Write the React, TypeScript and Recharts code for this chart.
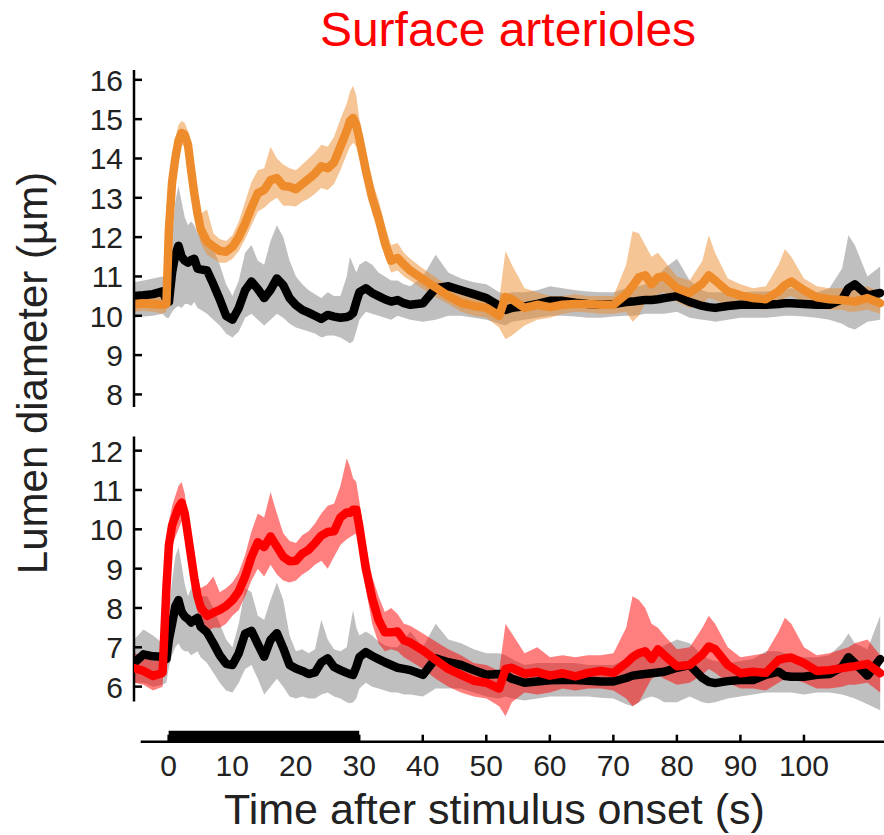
import React from "react";
import { ComposedChart, Line, Area, XAxis, YAxis, ReferenceLine } from "recharts";

// time after stimulus onset (s)
const time = [
  -5.5, -4, -2.5, -1, -0.4, 0, 0.5, 1, 1.5, 2, 2.5, 3, 3.5, 4, 4.5, 5,
  6, 7, 8, 9, 10, 11, 12, 13, 14, 15, 16, 17, 18, 19, 20, 21, 22, 23, 24, 25, 26, 27, 28,
  28.5, 29, 29.5, 30, 31, 32, 33, 34, 35, 36, 37, 38,
  40, 42, 44, 46, 48, 50, 52, 53, 54,
  56, 58, 60, 62, 64, 66, 68, 70, 72, 73, 74, 75, 76, 77, 78,
  80, 82, 84, 85, 86, 88, 90, 92, 94, 96, 97, 98, 100, 102, 104, 106, 107, 108, 110, 112,
];

// top panel: orange trace with its band, black control with grey band
const orangeMean = [
  10.3, 10.32, 10.3, 10.28, 10.3, 12.2, 13.4, 14.0, 14.45, 14.65, 14.6, 14.35, 13.7, 13.1, 12.6, 12.2,
  11.89, 11.76, 11.65, 11.63, 11.75, 12.0, 12.35, 12.75, 13.12, 13.2, 13.45, 13.5, 13.3, 13.28, 13.22, 13.35, 13.48, 13.62, 13.8, 13.75, 13.9, 14.3, 14.7,
  14.95, 15.03, 14.85, 14.5, 13.7, 13.0, 12.5, 11.85, 11.4, 11.47, 11.3, 11.15,
  10.93, 10.72, 10.5, 10.33, 10.25, 10.2, 10.0, 10.48, 10.42,
  10.2, 10.28, 10.22, 10.28, 10.3, 10.3, 10.28, 10.28, 10.55, 10.75, 10.98, 11.03, 10.8, 10.98, 11.0,
  10.7, 10.58, 10.82, 11.03, 10.9, 10.62, 10.52, 10.45, 10.42, 10.62, 10.78, 10.87, 10.65, 10.47, 10.42, 10.4, 10.38, 10.36, 10.45, 10.32,
];
const orangeLo = [
  10.1, 10.12, 10.1, 10.05, 10.1, 11.7, 12.9, 13.6, 14.1, 14.35, 14.3, 14.0, 13.3, 12.7, 12.2, 11.85,
  11.55, 11.45, 11.35, 11.35, 11.45, 11.65, 11.95, 12.3, 12.65, 12.75, 12.9, 13.0, 12.8, 12.8, 12.78, 12.9, 12.98, 13.1, 13.25, 13.2, 13.35, 13.7, 14.1,
  14.3, 14.4, 14.3, 14.0, 13.3, 12.6, 12.1, 11.5, 11.1, 11.15, 11.0, 10.9,
  10.68, 10.48, 10.3, 10.1, 10.0, 9.95, 9.7, 9.4, 9.5,
  9.75, 9.9, 9.95, 10.05, 10.1, 10.08, 10.05, 10.05, 10.1, 9.85, 10.0, 10.35, 10.4, 10.55, 10.6,
  10.35, 10.2, 10.3, 10.45, 10.4, 10.25, 10.25, 10.2, 10.15, 10.3, 10.45, 10.5, 10.35, 10.2, 10.15, 10.15, 10.1, 10.1, 10.15, 10.05,
];
const orangeHi = [
  10.5, 10.52, 10.5, 10.5, 10.55, 12.8, 13.9, 14.5, 14.85, 14.95, 14.9, 14.7, 14.1, 13.5, 13.0, 12.6,
  12.7, 12.1, 11.95, 11.9, 12.05, 12.4, 12.9, 13.4, 13.7, 13.75, 14.3, 14.0, 13.85, 13.75, 13.7, 13.85, 14.0, 14.15, 14.35, 14.3, 14.55, 15.0, 15.4,
  15.7, 15.85, 15.6, 15.0, 14.2, 13.4, 12.95, 12.3, 11.8, 11.85, 11.6, 11.45,
  11.2, 10.98, 10.75, 10.55, 10.5, 10.45, 10.4, 11.65, 11.3,
  10.7, 10.6, 10.5, 10.5, 10.55, 10.5, 10.5, 10.5, 11.3, 12.15, 12.1, 11.8, 11.5, 11.6, 11.4,
  11.0, 10.9, 11.4, 12.05, 11.6, 10.95, 10.8, 10.7, 10.75, 11.3, 11.7, 11.5, 10.95, 10.75, 10.7, 10.7, 10.7, 10.65, 10.75, 10.6,
];
const blackTopMean = [
  10.5, 10.52, 10.55, 10.62, 10.4, 10.35, 11.1, 11.55, 11.78, 11.5, 11.4, 11.35, 11.42, 11.45, 11.2, 11.18,
  11.15, 10.8, 10.42, 10.0, 9.9, 10.2, 10.65, 10.87, 10.68, 10.45, 10.66, 10.95, 10.78, 10.45, 10.27, 10.15, 10.08, 10.0, 9.92, 10.02, 9.98, 9.95, 9.97,
  10.0, 10.07, 10.35, 10.6, 10.7, 10.58, 10.5, 10.42, 10.36, 10.4, 10.32, 10.28,
  10.32, 10.7, 10.75, 10.65, 10.55, 10.45, 10.25, 10.15, 10.2,
  10.24, 10.3, 10.38, 10.38, 10.33, 10.3, 10.28, 10.3, 10.35, 10.36, 10.38, 10.4, 10.4, 10.42, 10.45,
  10.5, 10.35, 10.25, 10.22, 10.2, 10.25, 10.28, 10.28, 10.28, 10.3, 10.32, 10.32, 10.3, 10.28, 10.28, 10.42, 10.7, 10.8, 10.52, 10.58,
];
const grayTopLo = [
  9.95, 9.98, 10.0, 10.05, 9.95, 9.95, 10.1, 10.2, 10.25, 10.2, 10.3, 10.3, 10.25, 10.35, 10.2, 10.15,
  10.05, 9.9, 9.75, 9.55, 9.45, 9.6, 9.95, 10.05, 9.9, 9.75, 9.9, 10.05, 9.95, 9.8, 9.7, 9.65, 9.6, 9.55, 9.45, 9.5, 9.5, 9.45, 9.35,
  9.3, 9.35, 9.6, 9.9, 10.1, 10.05, 10.0, 9.95, 9.9, 10.0, 9.95, 9.9,
  9.85, 9.9, 10.0, 10.0, 9.95, 9.9, 9.8, 9.75, 9.85,
  9.9, 9.95, 10.0, 10.0, 9.98, 9.95, 9.95, 9.98, 10.0, 10.0, 10.02, 10.05, 10.05, 10.05, 10.05,
  10.1, 9.95, 9.9, 9.88, 9.85, 9.9, 9.95, 9.95, 9.95, 9.98, 10.0, 10.0, 9.98, 9.95, 9.9, 9.8, 9.7, 9.65, 9.85, 9.9,
];
const grayTopHi = [
  10.85, 10.9, 10.95, 11.0, 10.9, 11.0, 12.0, 12.9, 13.3, 12.9, 12.5, 12.3, 12.4, 12.3, 12.1, 12.2,
  12.1, 11.7, 11.3, 10.8, 10.5, 10.9, 11.6, 11.8, 11.4, 11.3, 11.9, 12.3, 12.0, 11.4, 11.0, 10.8, 10.65, 10.55, 10.45, 10.6, 10.5, 10.5, 11.0,
  11.5, 11.3, 11.1, 11.3, 11.4, 11.3, 11.1, 11.0, 10.9, 10.9, 10.8, 10.75,
  11.0, 11.55, 11.1, 10.95, 10.85, 10.8, 10.6, 10.55, 10.6,
  10.6, 10.65, 10.75, 10.7, 10.65, 10.62, 10.6, 10.6, 10.7, 10.75, 10.75, 10.8, 10.8, 11.0, 11.2,
  11.45, 10.9, 10.65, 10.6, 10.6, 10.6, 10.6, 10.62, 10.62, 10.65, 10.68, 10.7, 10.65, 10.6, 10.7, 11.2, 12.05, 11.8, 11.0, 11.25,
];

// bottom panel: red trace with its band, black control with grey band
const redMean = [
  6.47, 6.4, 6.27, 6.35, 8.5, 9.6, 10.1, 10.33, 10.55, 10.68, 10.4, 9.85, 9.3, 8.75, 8.3, 8.02,
  7.8, 7.88, 7.95, 8.05, 8.2, 8.42, 8.8, 9.3, 9.67, 9.55, 9.82, 9.56, 9.3, 9.19, 9.2, 9.38, 9.48, 9.65, 9.84, 9.93, 9.95, 10.3, 10.43,
  10.42, 10.5, 10.5, 10.05, 9.0, 8.25, 7.7, 7.38, 7.38, 7.4, 7.18, 7.12,
  6.92, 6.68, 6.45, 6.3, 6.15, 6.1, 5.95, 6.45, 6.48,
  6.33, 6.37, 6.28, 6.34, 6.26, 6.35, 6.4, 6.35, 6.6, 6.75, 6.85, 6.9, 6.7, 6.95, 6.8,
  6.52, 6.55, 6.82, 7.02, 6.95, 6.55, 6.34, 6.38, 6.35, 6.68, 6.72, 6.74, 6.6, 6.4, 6.42, 6.47, 6.5, 6.52, 6.58, 6.34,
];
const redLo = [
  6.1, 6.05, 5.9, 6.0, 7.9, 9.1, 9.6, 9.8, 10.0, 10.2, 9.9, 9.3, 8.8, 8.3, 7.9, 7.6,
  7.4, 7.5, 7.5, 7.6, 7.8, 7.95, 8.3, 8.7, 9.0, 8.8, 9.1, 8.85, 8.7, 8.65, 8.7, 8.85, 8.95, 9.1, 9.2, 9.0, 9.3, 9.6, 9.75,
  9.8, 9.85, 9.9, 9.5, 8.5, 7.6, 7.1, 6.9, 6.95, 6.9, 6.75, 6.65,
  6.45, 6.2, 6.0, 5.85, 5.75, 5.7, 5.5, 5.25, 5.6,
  5.85, 5.8, 5.85, 5.95, 5.9, 5.95, 5.95, 5.9, 5.7, 5.5, 5.6, 5.9, 6.2, 6.3, 6.2,
  6.05, 6.1, 6.3, 6.45, 6.35, 6.1, 5.95, 5.95, 5.9, 6.1, 6.2, 6.2, 6.1, 5.95, 5.95, 6.0, 6.05, 6.05, 6.1, 5.85,
];
const redHi = [
  6.85, 6.8, 6.65, 6.75, 9.0, 10.2, 10.6, 10.85, 11.1, 11.2, 10.9, 10.35, 9.8, 9.3, 8.8, 8.5,
  8.6, 8.8, 8.4, 8.5, 8.65, 8.9, 9.35, 9.95, 10.4, 10.3, 10.95, 10.4, 9.9, 9.7, 9.65, 9.85, 9.95, 10.15, 10.4, 10.6, 10.65, 11.1, 11.8,
  11.6, 11.3, 11.2, 10.7, 9.6, 8.8, 8.3, 7.9, 8.0, 7.85, 7.6, 7.55,
  7.35, 7.15, 6.95, 6.8, 6.6, 6.55, 6.4, 7.6, 7.35,
  6.85, 7.0, 6.75, 6.8, 6.75, 6.8, 6.8, 6.85, 7.5, 8.3, 8.2, 8.0, 7.6, 7.5, 7.3,
  6.95, 7.0, 7.5, 7.8, 7.6, 7.0, 6.75, 6.8, 6.85, 7.4, 7.75, 7.6, 7.0, 6.8, 6.85, 6.95, 7.0, 7.1, 7.2, 6.8,
];
const blackBotMean = [
  6.6, 6.82, 6.77, 6.76, 6.7, 7.2, 7.6, 8.04, 8.2, 7.9, 7.78, 7.72, 7.63, 7.7, 7.75, 7.52,
  7.38, 7.1, 6.8, 6.58, 6.55, 6.85, 7.35, 7.42, 7.08, 6.76, 7.19, 7.36, 6.98, 6.55, 6.46, 6.4, 6.32, 6.36, 6.62, 6.72, 6.5, 6.42, 6.35,
  6.32, 6.3, 6.5, 6.75, 6.88, 6.78, 6.7, 6.62, 6.55, 6.48, 6.45, 6.42,
  6.3, 6.72, 6.62, 6.55, 6.42, 6.3, 6.32, 6.3, 6.2,
  6.1, 6.13, 6.16, 6.17, 6.17, 6.15, 6.13, 6.13, 6.22, 6.28, 6.3, 6.32, 6.34, 6.36, 6.38,
  6.48, 6.55, 6.22, 6.12, 6.09, 6.14, 6.17, 6.17, 6.3, 6.38, 6.27, 6.25, 6.25, 6.3, 6.32, 6.5, 6.75, 6.6, 6.28, 6.7,
];
const grayBotLo = [
  6.1, 6.1, 6.0, 6.05, 6.1, 6.5, 6.8, 7.0, 7.1, 6.95, 6.9, 6.9, 6.8, 6.85, 6.9, 6.75,
  6.6, 6.35, 6.1, 5.9, 5.85, 6.1, 6.45, 6.55, 6.2, 5.8, 6.0, 6.2, 6.0, 5.75, 5.7, 5.75, 5.7, 5.7, 5.8, 5.85, 5.75, 5.7, 5.6,
  5.58, 5.6, 5.7, 5.95, 6.1, 6.0, 5.95, 5.9, 5.85, 5.85, 5.8, 5.8,
  5.75, 5.95, 5.95, 5.95, 5.85, 5.75, 5.7, 5.75, 5.7,
  5.65, 5.7, 5.75, 5.75, 5.75, 5.75, 5.72, 5.7, 5.55, 5.5, 5.6, 5.7, 5.75, 5.7, 5.6,
  5.6, 5.75, 5.6, 5.58, 5.6, 5.7, 5.75, 5.8, 5.85, 5.85, 5.85, 5.85, 5.8, 5.85, 5.85, 5.8, 5.75, 5.7, 5.55, 5.4,
];
const grayBotHi = [
  7.2, 7.45, 7.3, 7.1, 7.3, 8.0, 8.7, 9.3, 9.55, 9.1, 8.6, 8.3, 8.5, 8.7, 8.8, 8.3,
  8.3, 8.0, 7.6, 7.2, 7.0, 7.6, 8.5, 8.4, 7.8, 7.7, 8.2, 8.65, 8.2, 7.3, 6.9, 6.95, 6.85, 6.95, 7.7, 7.2, 6.95, 6.9, 7.0,
  7.5, 7.95, 7.5, 7.3, 7.4, 7.3, 7.15, 7.05, 7.0, 7.0, 7.2, 7.4,
  7.0, 7.6, 7.2, 7.1, 6.95, 6.85, 6.85, 6.8, 6.7,
  6.55, 6.6, 6.6, 6.6, 6.6, 6.55, 6.55, 6.55, 6.7, 6.8, 6.85, 6.85, 6.9, 6.95, 7.05,
  7.2, 7.1, 6.8, 6.7, 6.65, 6.6, 6.65, 6.7, 6.9, 6.9, 6.85, 6.8, 6.75, 6.75, 6.8, 7.1, 7.35, 7.1, 6.95, 7.8,
];

const topTicks = [8, 9, 10, 11, 12, 13, 14, 15, 16];
const bottomTicks = [6, 7, 8, 9, 10, 11, 12];
const timeTicks = [0, 10, 20, 30, 40, 50, 60, 70, 80, 90, 100];
// stimulus on from 0 to 30 s
const stimulusTime = [0, 30];
const stimulusOn = [1, 1];

const rows = time.map((t, i) => ({
  t,
  orange: orangeMean[i],
  orangeBand: [orangeLo[i], orangeHi[i]],
  blackTop: blackTopMean[i],
  grayTop: [grayTopLo[i], grayTopHi[i]],
  red: redMean[i],
  redBand: [redLo[i], redHi[i]],
  blackBot: blackBotMean[i],
  grayBot: [grayBotLo[i], grayBotHi[i]],
}));
const stimRows = stimulusTime.map((t, i) => ({ t, on: stimulusOn[i] }));

const FONT = "'Liberation Sans', Arial, sans-serif";
const INK = "#222";
const X_DOMAIN = [-5.5, 112.6];

const YTick = (props: any) => {
  const { x, y, payload } = props;
  return (
    <g>
      <line x1={x + 11} x2={x + 19} y1={y} y2={y} stroke="#000" strokeWidth={2.5} />
      <text x={x} y={y + 11} textAnchor="end" fontSize={30} fontFamily={FONT} fill={INK}>
        {payload.value}
      </text>
    </g>
  );
};

const XTick = (props: any) => {
  const { x, y, payload } = props;
  return (
    <g>
      <line x1={x} x2={x} y1={y - 12} y2={y - 19} stroke="#000" strokeWidth={2.5} />
      <text x={x} y={y + 22} textAnchor="middle" fontSize={30} fontFamily={FONT} fill={INK}>
        {payload.value}
      </text>
    </g>
  );
};

const lineProps = { type: "linear" as const, dot: false, activeDot: false, strokeWidth: 8.5, strokeLinejoin: "round" as const, strokeLinecap: "round" as const, isAnimationActive: false };
const bandProps = { type: "linear" as const, stroke: "none", fillOpacity: 0.5, activeDot: false, isAnimationActive: false };

export default function App() {
  return (
    <div style={{ position: "absolute", left: 0, top: 0, width: 884, height: 835, background: "#fff" }}>
      <div style={{ position: "absolute", left: 0, top: 0 }}>
        <ComposedChart width={884} height={420} data={rows} margin={{ top: 70, right: 0, bottom: 13, left: 0 }}>
          <XAxis dataKey="t" type="number" domain={X_DOMAIN} allowDataOverflow hide />
          <YAxis
            type="number"
            domain={[7.68, 16.25]}
            allowDataOverflow
            ticks={topTicks}
            interval={0}
            width={134}
            axisLine={{ stroke: "#000", strokeWidth: 2.5 }}
            tickLine={false}
            tickSize={0}
            tickMargin={11}
            tick={(p: any) => <YTick {...p} />}
          />
          <Area dataKey="grayTop" fill="#808080" {...bandProps} />
          <Area dataKey="orangeBand" fill="#EE8B2B" {...bandProps} />
          <Line dataKey="blackTop" stroke="#000" {...lineProps} />
          <Line dataKey="orange" stroke="#EE8B2B" {...lineProps} />
        </ComposedChart>
      </div>

      <div style={{ position: "absolute", left: 0, top: 420 }}>
        <ComposedChart width={884} height={300} data={rows} margin={{ top: 16.5, right: 0, bottom: 1.9, left: 0 }}>
          <XAxis dataKey="t" type="number" domain={X_DOMAIN} allowDataOverflow hide />
          <YAxis
            type="number"
            domain={[5.2, 12.36]}
            allowDataOverflow
            ticks={bottomTicks}
            interval={0}
            width={134}
            axisLine={false}
            tickLine={false}
            tickSize={0}
            tickMargin={11}
            tick={(p: any) => <YTick {...p} />}
          />
          <ReferenceLine
            segment={[{ x: X_DOMAIN[0], y: 5.62 }, { x: X_DOMAIN[0], y: 12.36 }]}
            stroke="#000"
            strokeWidth={2.5}
            ifOverflow="visible"
          />
          <Area dataKey="grayBot" fill="#808080" {...bandProps} />
          <Area dataKey="redBand" fill="#FF0000" {...bandProps} />
          <Line dataKey="blackBot" stroke="#000" {...lineProps} />
          <Line dataKey="red" stroke="#FF0000" {...lineProps} />
        </ComposedChart>
      </div>

      <div style={{ position: "absolute", left: 0, top: 700 }}>
        <ComposedChart width={884} height={135} data={stimRows} margin={{ top: 30.7, right: 0, bottom: 0, left: 140.7 }}>
          <XAxis
            dataKey="t"
            type="number"
            domain={[-4.4, 112.6]}
            allowDataOverflow
            ticks={timeTicks}
            interval={0}
            height={93.3}
            axisLine={{ stroke: "#000", strokeWidth: 2.5 }}
            tickLine={false}
            tickSize={0}
            tickMargin={12}
            tick={(p: any) => <XTick {...p} />}
          />
          <YAxis type="number" domain={[0, 1]} allowDataOverflow hide />
          <Area dataKey="on" type="linear" baseValue={0} fill="#000" fillOpacity={1} stroke="#000" strokeWidth={1} activeDot={false} isAnimationActive={false} />
        </ComposedChart>
      </div>

      <svg width={884} height={835} style={{ position: "absolute", left: 0, top: 0, pointerEvents: "none" }}>
        <text x={508} y={46} textAnchor="middle" fontSize={48} fontFamily={FONT} fill="#FF0000">
          Surface arterioles
        </text>
        <text transform="translate(47,373) rotate(-90)" textAnchor="middle" fontSize={42} fontFamily={FONT} fill={INK}>
          Lumen diameter (µm)
        </text>
        <text x={494.5} y={824} textAnchor="middle" fontSize={43} fontFamily={FONT} fill={INK}>
          Time after stimulus onset (s)
        </text>
      </svg>
    </div>
  );
}
